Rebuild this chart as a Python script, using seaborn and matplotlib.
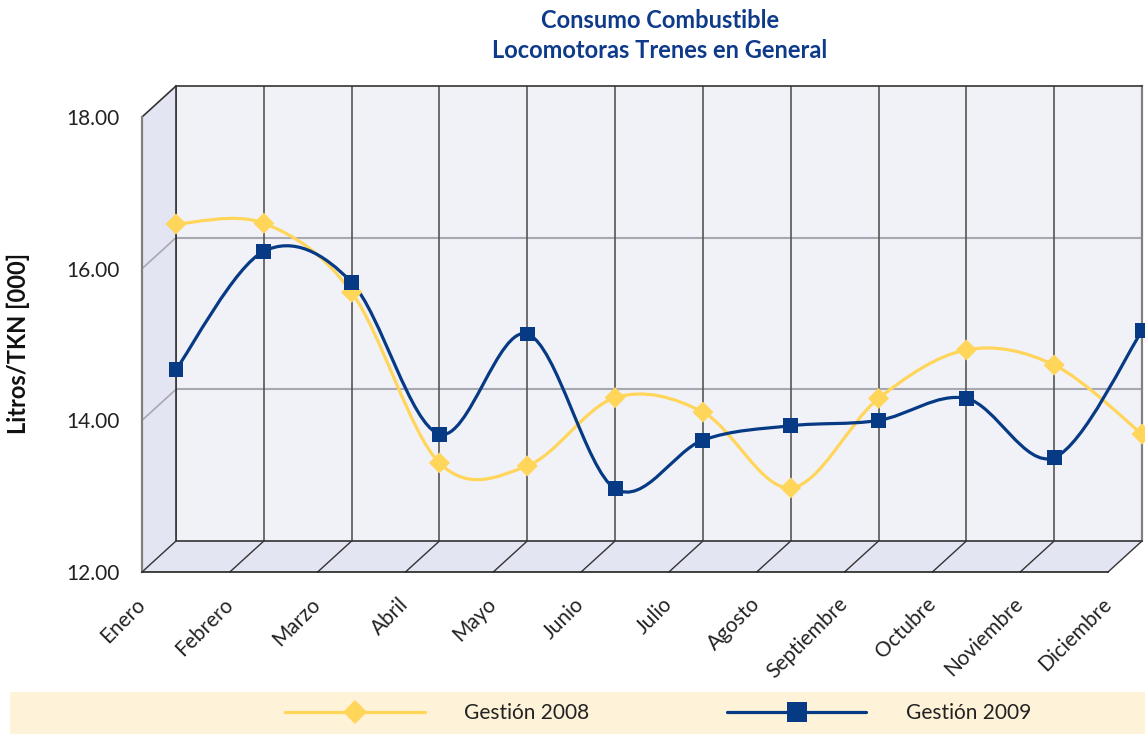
"""Consumo combustible locomotoras - recreacion del grafico 3D de lineas."""

import matplotlib
matplotlib.use('Agg')
import matplotlib.pyplot as plt
import numpy as np
import pandas as pd
import seaborn as sns
from matplotlib.lines import Line2D
from matplotlib.patches import PathPatch, Polygon, Rectangle
from matplotlib.path import Path

# Datos
meses = ["Enero", "Febrero", "Marzo", "Abril", "Mayo", "Junio", "Julio",
         "Agosto", "Septiembre", "Octubre", "Noviembre", "Diciembre"]
gestion_2008 = [16.18, 16.19, 15.28, 13.03, 12.99, 13.89, 13.70,
                12.70, 13.88, 14.52, 14.32, 13.41]
gestion_2009 = [14.26, 15.82, 15.41, 13.41, 14.73, 12.69, 13.33,
                13.52, 13.59, 13.88, 13.10, 14.77]
series = ["Gestión 2008", "Gestión 2009"]
y_ticks = [12, 14, 16, 18]

# Estilo
AMARILLO = "#FFD55A"
AZUL = "#073A84"
TITULO = "#0E3A8A"
PARED = "#F1F2F8"
LATERAL = "#E4E5F2"
BANDA = "#FEF3D8"

W, H = 1145, 734
# caja 3D en pixeles: pared del fondo y eje frontal
BACK_L, BACK_R, BACK_T, BACK_B = 176, 1142, 86, 541
DX, DY = 34, 31
FRONT_L, FRONT_R, FRONT_T, FRONT_B = BACK_L - DX, BACK_R - DX, BACK_T + DY, BACK_B + DY

sns.set_style("white")
plt.rcParams["font.family"] = ["Lato", "DejaVu Sans"]

fig = plt.figure(figsize=(W / 100, H / 100), dpi=100)

# fondo en coordenadas de pixel
bg = fig.add_axes([0, 0, 1, 1], zorder=0)
bg.set_xlim(0, W)
bg.set_ylim(H, 0)
bg.axis("off")

bg.add_patch(Polygon([(FRONT_L, FRONT_T), (BACK_L, BACK_T), (BACK_L, BACK_B), (FRONT_L, FRONT_B)],
                     closed=True, facecolor=LATERAL, edgecolor="none"))
bg.add_patch(Polygon([(FRONT_L, FRONT_B), (BACK_L, BACK_B), (BACK_R, BACK_B), (FRONT_R, FRONT_B)],
                     closed=True, facecolor=LATERAL, edgecolor="none"))
bg.plot([FRONT_L, BACK_L], [FRONT_T, BACK_T], color="#333333", lw=1.2)

escala = (FRONT_B - FRONT_T) / (y_ticks[-1] - y_ticks[0])
for v in y_ticks[1:-1]:
    yf = FRONT_B - (v - y_ticks[0]) * escala
    bg.plot([FRONT_L, BACK_L], [yf, yf - DY], color="#A8A8B2", lw=1.2)

paso = (FRONT_R - FRONT_L) / (len(meses) - 1)
for k in range(len(meses)):
    xf = FRONT_L + k * paso
    bg.plot([xf, xf + DX], [FRONT_B, BACK_B], color="#333333", lw=1.0)

# banda de la leyenda
bg.add_patch(Rectangle((10, 692), W - 10, 42, facecolor=BANDA, edgecolor="none"))

# pared del fondo (datos)
ax = fig.add_axes([BACK_L / W, 1 - BACK_B / H, (BACK_R - BACK_L) / W, (BACK_B - BACK_T) / H],
                  zorder=1)
ax.set_facecolor(PARED)
ax.set_xlim(0, len(meses) - 1)
ax.set_ylim(y_ticks[0], y_ticks[-1])
ax.set_xticks([])
ax.set_yticks([])
for s in ["top", "left", "bottom"]:
    ax.spines[s].set_color("#333333")
    ax.spines[s].set_linewidth(1.2)
ax.spines["right"].set_color("#808080")
ax.spines["right"].set_linewidth(1.6)
ax.hlines(y_ticks[1:-1], 0, len(meses) - 1, color="#A8A8B2", lw=1.5, zorder=1)
ax.vlines(range(len(meses)), y_ticks[0], y_ticks[-1], color="#555555", lw=1.2, zorder=1)

df = pd.DataFrame({
    "mes": list(range(len(meses))) * 2,
    "valor": gestion_2008 + gestion_2009,
    "serie": [series[0]] * len(meses) + [series[1]] * len(meses),
})
colores = {series[0]: AMARILLO, series[1]: AZUL}


def curva_suave(xs, ys):
    """Bezier tipo Catmull-Rom, como el suavizado de Excel."""
    pts = np.column_stack([xs, ys]).astype(float)
    n = len(pts)
    verts = [pts[0]]
    codes = [Path.MOVETO]
    for i in range(n - 1):
        p0, p1 = pts[max(i - 1, 0)], pts[i]
        p2, p3 = pts[i + 1], pts[min(i + 2, n - 1)]
        verts += [p1 + (p2 - p0) / 6, p2 - (p3 - p1) / 6, p2]
        codes += [Path.CURVE4] * 3
    return Path(verts, codes)


for nombre in series:
    d = df[df["serie"] == nombre]
    ax.add_patch(PathPatch(curva_suave(d["mes"], d["valor"]), facecolor="none",
                           edgecolor=colores[nombre], lw=2.3, zorder=3, clip_on=False))

sns.scatterplot(data=df, x="mes", y="valor", hue="serie", style="serie",
                palette=colores, markers={series[0]: "D", series[1]: "s"},
                s=115, linewidth=0, legend=False, ax=ax, zorder=4, clip_on=False)
ax.set_xlabel("")
ax.set_ylabel("")

# eje frontal (etiquetas)
axf = fig.add_axes([FRONT_L / W, 1 - FRONT_B / H, (FRONT_R - FRONT_L) / W, (FRONT_B - FRONT_T) / H],
                   zorder=2)
axf.patch.set_alpha(0)
axf.set_xlim(0, len(meses) - 1)
axf.set_ylim(y_ticks[0], y_ticks[-1])
axf.spines["top"].set_visible(False)
axf.spines["right"].set_visible(False)
axf.spines["left"].set_color("#808080")
axf.spines["left"].set_linewidth(1.6)
axf.spines["bottom"].set_color("#222222")
axf.spines["bottom"].set_linewidth(1.2)
axf.set_yticks(y_ticks)
axf.set_yticklabels([f"{v:.2f}" for v in y_ticks], fontsize=15, color="#222222")
axf.set_xticks(range(len(meses)))
axf.set_xticklabels(meses, fontsize=15, color="#222222", rotation=45,
                    ha="right", va="center", rotation_mode="anchor")
axf.tick_params(axis="y", length=9, width=1.3, color="#808080", pad=7)
axf.tick_params(axis="x", length=11, width=1.3, color="#808080", pad=10)

# textos
fig.text(660 / W, 1 - 21 / H, "Consumo Combustible", ha="center", va="center",
         fontsize=17, fontweight="bold", color=TITULO)
fig.text(660 / W, 1 - 50 / H, "Locomotoras Trenes en General", ha="center", va="center",
         fontsize=17, fontweight="bold", color=TITULO)
fig.text(18 / W, 1 - 343 / H, "Litros/TKN [000]", rotation=90, ha="center", va="center",
         fontsize=17, fontweight="bold", color="#111111")

# leyenda
handles = [
    Line2D([], [], color=AMARILLO, lw=2.3, marker="D", markersize=12.5, markeredgewidth=0),
    Line2D([], [], color=AZUL, lw=2.3, marker="s", markersize=15, markeredgewidth=0),
]
fig.legend(handles, series, loc="center left", bbox_to_anchor=(285 / W, 1 - 713 / H),
           ncol=2, frameon=False, fontsize=15, handlelength=6.7, handletextpad=1.9,
           columnspacing=6.6, borderpad=0, borderaxespad=0, labelcolor="#222222")

fig.savefig("out.png", dpi=100)
